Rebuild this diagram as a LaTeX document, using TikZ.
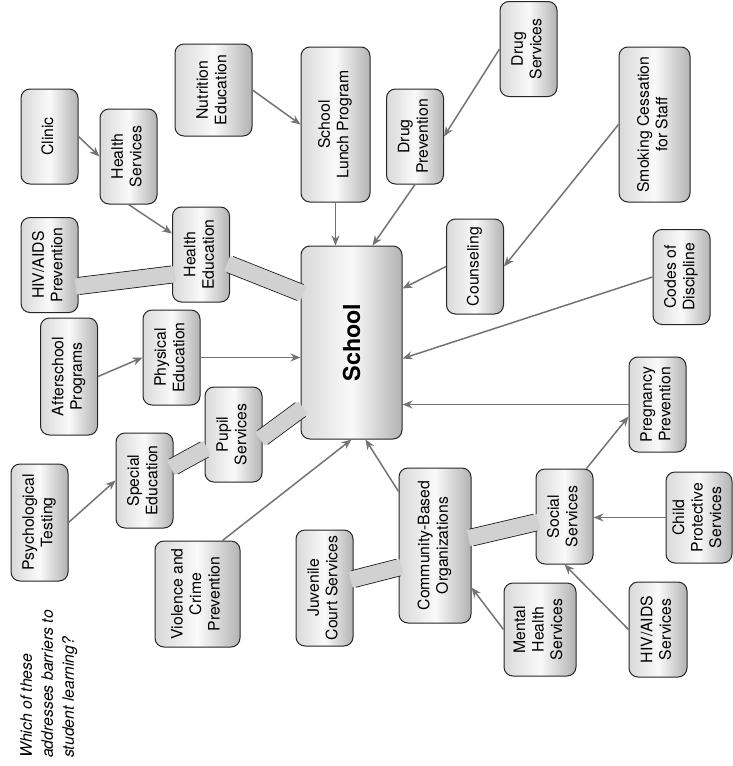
\documentclass[tikz,border=0pt]{standalone}
\usepackage{fontspec}
\setmainfont{TeX Gyre Heros}
\usepackage{graphicx}
\usepackage{tikz}
\usetikzlibrary{arrows.meta,positioning,calc}
\newcommand{\vtext}[1]{\rotatebox{90}{\begin{tabular}{@{}c@{}}#1\end{tabular}}}

\begin{document}
\begin{tikzpicture}[
  x=1pt, y=-1pt,
  >={Stealth[length=10pt,width=8pt]},
  font=\fontsize{15.8}{18.5}\selectfont,
  box/.style={
    draw=black!85,
    line width=1pt,
    rounded corners=9pt,
    left color=black!15,
    right color=black!30,
    middle color=black!2,
    inner sep=2pt,
    minimum width=57pt,
    minimum height=95pt
  },
  hub/.style={
    box,
    minimum width=101pt,
    minimum height=193pt,
    font=\fontsize{23.4}{28}\selectfont\bfseries
  },
  arr/.style={
    ->,
    draw=black!55,
    line width=1.5pt
  },
  band/.style={
    draw=black!85,
    line width=1pt,
    double=black!18,
    double distance=16pt
  },
  bandfill/.style={
    draw=black!18,
    line width=16pt,
    shorten <=-3pt, shorten >=-3pt
  },
  note/.style={
    font=\fontsize{15.8}{21}\selectfont\itshape,
    align=left,
    rotate=90,
    inner sep=0pt
  }
]
\useasboundingbox (0,0) rectangle (733,766);

% Centre
\node[hub] (school) at (351.5,342.5) {\rotatebox{90}{School}};

% Top row
\node[box] (clinic) at (49.5,136.5) {\vtext{Clinic}};
\node[box] (hsvc)   at (128.5,156.5) {\vtext{Health\\Services}};
\node[box, minimum width=77pt, minimum height=92pt] (nutr) at (213.5,90) {\vtext{Nutrition\\Education}};
\node[box, minimum width=69pt, minimum height=155pt] (lunch) at (335.5,124.5) {\vtext{School\\Lunch Program}};
\node[box] (dprev)  at (415,136.5) {\vtext{Drug\\Prevention}};
\node[box] (dsvc)   at (528.5,49) {\vtext{Drug\\Services}};
\node[box, minimum width=71pt, minimum height=155pt] (smok) at (654.5,124.5) {\vtext{Smoking Cessation\\for Staff}};

% Middle band
\node[box] (hivp)   at (49.5,265) {\vtext{HIV/AIDS\\Prevention}};
\node[box] (hedu)   at (201,254.5) {\vtext{Health\\Education}};
\node[box] (couns)  at (475,266.5) {\vtext{Counseling}};
\node[box] (codes)  at (681.5,277) {\vtext{Codes of\\Discipline}};
\node[box, minimum height=117pt] (after) at (69,376.5) {\vtext{Afterschool\\Programs}};
\node[box] (phys)   at (171.5,357.5) {\vtext{Physical\\Education}};
\node[box] (preg)   at (657.5,404.5) {\vtext{Pregnancy\\Prevention}};

% Lower row
\node[box] (pupil)  at (233.5,434.5) {\vtext{Pupil\\Services}};
\node[box] (sped)   at (144.5,480.5) {\vtext{Special\\Education}};
\node[box, minimum height=117pt] (psych) at (39.5,522.5) {\vtext{Psychological\\Testing}};
\node[box, minimum width=85pt, minimum height=106pt] (viol) at (197.5,594) {\vtext{Violence and\\Crime\\Prevention}};
\node[box, minimum height=116pt] (juv) at (324.5,588) {\vtext{Juvenile\\Court Services}};
\node[box, minimum width=72pt, minimum height=155pt] (cbo) at (435,545.5) {\vtext{Community-Based\\Organizations}};
\node[box] (soc)    at (564.5,516.5) {\vtext{Social\\Services}};
\node[box, minimum width=66pt, minimum height=91pt] (cps) at (699,517.5) {\vtext{Child\\Protective\\Services}};
\node[box, minimum width=72pt, minimum height=93pt] (mhs) at (540,629.5) {\vtext{Mental\\Health\\Services}};
\node[box, minimum width=58pt] (hivs) at (658,629.5) {\vtext{HIV/AIDS\\Services}};

% Question
\node[note, anchor=north west] (quest) at (20,758) {Which of these\\addresses barriers to\\student learning?};

% Thick links
\draw[band] ($(hivp.east)+(0,21)$) -- ($(hedu.west)+(0,20)$);
\draw[band] ($(hedu.east)+(0,10)$) -- ($(school.west)+(0,-50)$);
\draw[band] ($(sped.east)+(0,-14)$) -- ($(pupil.west)+(0,15)$);
\draw[band] ($(pupil.east)+(0,3)$) -- ($(school.west)+(0,67)$);
\draw[band] ($(juv.east)+(0,-9)$) -- ($(cbo.west)+(0,22)$);
\draw[band] ($(cbo.east)+(0,-8)$) -- ($(soc.west)+(0,6)$);
\draw[bandfill] ($(hivp.east)+(0,21)$) -- ($(hedu.west)+(0,20)$);
\draw[bandfill] ($(hedu.east)+(0,10)$) -- ($(school.west)+(0,-50)$);
\draw[bandfill] ($(sped.east)+(0,-14)$) -- ($(pupil.west)+(0,15)$);
\draw[bandfill] ($(pupil.east)+(0,3)$) -- ($(school.west)+(0,67)$);
\draw[bandfill] ($(juv.east)+(0,-9)$) -- ($(cbo.west)+(0,22)$);
\draw[bandfill] ($(cbo.east)+(0,-8)$) -- ($(soc.west)+(0,6)$);

% Arrows
\draw[arr] (clinic.east) -- (hsvc.west);
\draw[arr] (hsvc.south) -- ($(hedu.west)+(0,-21)$);
\draw[arr] (nutr.east) -- (lunch.west);
\draw[arr] (lunch.south) -- (lunch.south |- school.north);
\draw[arr] (dsvc.west) -- (dprev.east);
\draw[arr] (dprev.south) -- ($(school.north)+(21,0)$);
\draw[arr] (smok.west) -- (couns.east);
\draw[arr] (couns.west) -- ($(school.east)+(0,-54)$);
\draw[arr] (codes.west) -- ($(school.east)+(0,16)$);
\draw[arr] (preg.west) -- (preg.west -| school.east);
\draw[arr] (after.east) -- (phys.west);
\draw[arr] (phys.east) -- (phys.east -| school.west);
\draw[arr] (psych.east) -- (sped.west);
\draw[arr] ($(viol.north)+(25,0)$) -- (school.south);
\draw[arr] ($(cbo.north west)+(0,24)$) -- ($(school.south)+(14,0)$);
\draw[arr] ($(soc.north)+(22,0)$) -- ($(preg.west)+(0,12)$);
\draw[arr] (cps.west) -- (cps.west -| soc.east);
\draw[arr] (mhs.west) -- ($(cbo.east)+(0,42)$);
\draw[arr] (hivs.west) -- (soc.south);

\end{tikzpicture}
\end{document}
